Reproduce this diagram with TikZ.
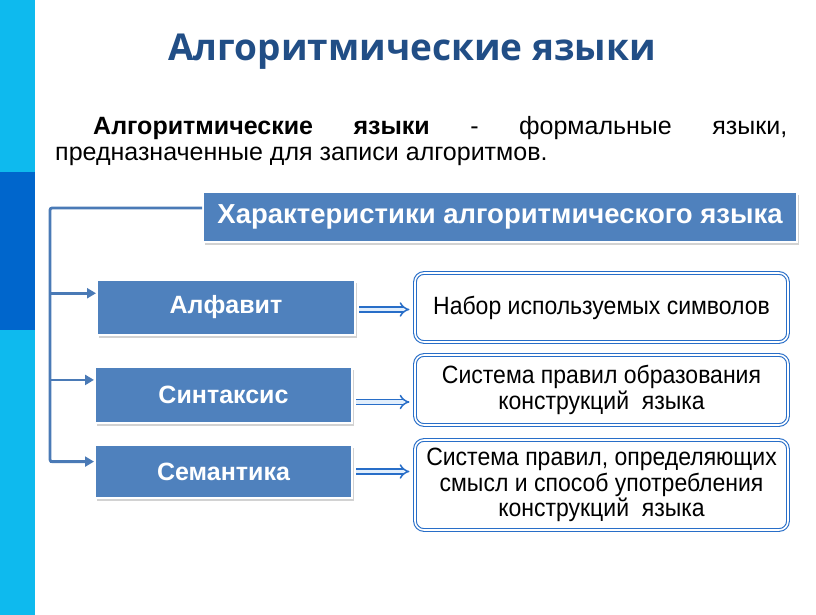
\documentclass[tikz,border=0pt]{standalone}
\usepackage{fontspec}
\setmainfont{Liberation Sans}
\newfontfamily\titlefont{Open Sans}
\newfontfamily\narrowfont{Liberation Sans}[FakeStretch=0.92]
\usetikzlibrary{arrows.meta,shadows,calc}
\definecolor{barlight}{RGB}{14,186,238}
\definecolor{bardark}{RGB}{0,102,204}
\definecolor{boxblue}{RGB}{79,129,189}
\definecolor{lineblue}{RGB}{74,122,182}
\definecolor{titleblue}{RGB}{33,78,134}
\definecolor{rimblue}{RGB}{40,110,200}
\definecolor{corelight}{RGB}{225,238,252}
\tikzset{
  bluebox/.style={rectangle, fill=boxblue, draw=white, line width=2pt,
    text=white, font=\bfseries\fontsize{25}{30}\selectfont, align=center,
    drop shadow={shadow xshift=2pt, shadow yshift=-3pt, opacity=0.35, fill=gray}},
  infobox/.style={rectangle, rounded corners=9pt, fill=white, draw=rimblue,
    double=white, double distance=1.6pt, line width=1.1pt,
    font=\narrowfont\fontsize{25}{25.5}\selectfont, align=center, inner sep=2pt},
  feeder/.style={draw=lineblue, line width=2.8pt, -{Triangle[length=9pt,width=10pt]}},
  implies/.style={draw=rimblue, double=corelight, double distance=3.4pt, line width=1.5pt, -{Implies[length=9pt]}},
}
\begin{document}
\begin{tikzpicture}[x=1pt,y=-1pt]
\useasboundingbox (0,0) rectangle (816,615);
\fill[white] (0,0) rectangle (816,615);
% side bar
\fill[barlight] (0,0) rectangle (35,615);
\fill[bardark] (0,172) rectangle (35,330);
% title
\node[font=\titlefont\bfseries\fontsize{37}{44}\selectfont, text=titleblue, anchor=base] (title) at (412,61) {Алгоритмические языки};
% definition paragraph
\node[anchor=north west, inner sep=0pt, text width=732pt, font=\fontsize{25}{26}\selectfont, align=justify] (def) at (55,116)
  {\hspace*{38pt}\textbf{Алгоритмические языки} - формальные языки,\linebreak предназначенные для записи алгоритмов.};
% boxes
\node[bluebox, font=\bfseries\fontsize{27.5}{30}\selectfont, minimum width=594pt, minimum height=50pt] (char) at (500,217) {Характеристики алгоритмического языка};
\node[bluebox, minimum width=258pt, minimum height=55pt] (alf) at (226,307.5) {Алфавит};
\node[bluebox, minimum width=257pt, minimum height=56pt] (syn) at (223.5,395) {Синтаксис};
\node[bluebox, minimum width=257pt, minimum height=53pt] (sem) at (223.5,471.5) {Семантика};
\node[infobox, minimum width=373pt, minimum height=69pt] (nab) at (601.5,307.5) {Набор используемых символов};
\node[infobox, minimum width=373pt, minimum height=70pt] (sys) at (601.5,390) {Система правил образования\\конструкций\ \ языка};
\node[infobox, minimum width=373pt, minimum height=90pt] (smn) at (601.5,485) {Система правил, определяющих\\смысл и способ употребления\\конструкций\ \ языка};
% feeder connectors
\coordinate (corner) at (50,208);
\coordinate (aa) at ($(alf.north west)!0.25!(alf.south west)$);
\coordinate (sa) at ($(syn.north west)!0.24!(syn.south west)$);
\coordinate (ma) at ($(sem.north west)!0.32!(sem.south west)$);
\draw[draw=lineblue, line width=2.8pt, rounded corners=2pt] (char.west |- corner) -- (corner) -- (corner |- ma) -- ([xshift=-8pt]ma);
\draw[feeder] (corner |- ma) -- (ma);
\draw[feeder] (corner |- aa) -- (aa);
\draw[feeder] (corner |- sa) -- (sa);
% implication arrows
\draw[implies, shorten <=3pt, shorten >=5pt] ([yshift=-2pt]alf.east) -- ([yshift=-2pt]alf.east -| nab.west);
\draw[implies, shorten <=3pt, shorten >=5pt] ([yshift=-7pt]syn.east) -- ([yshift=-7pt]syn.east -| sys.west);
\draw[implies, shorten <=3pt, shorten >=5pt] (sem.east) -- (sem.east -| smn.west);
\end{tikzpicture}
\end{document}
